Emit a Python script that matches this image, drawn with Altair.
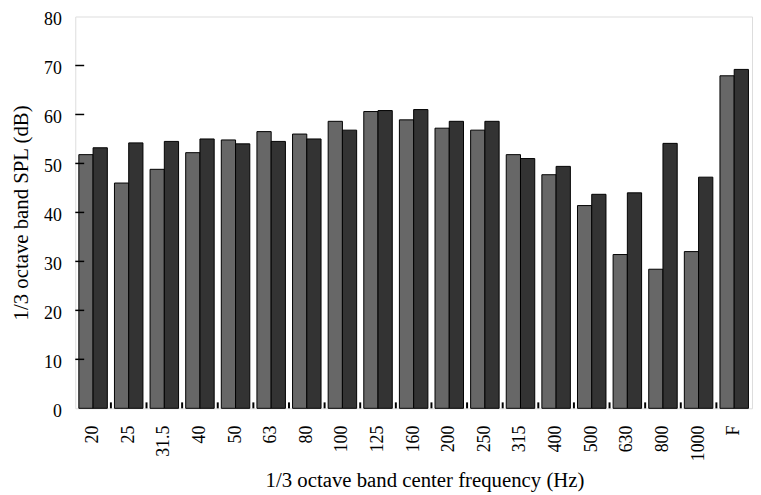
import altair as alt
import pandas as pd

categories = ["20", "25", "31.5", "40", "50", "63", "80", "100", "125", "160",
              "200", "250", "315", "400", "500", "630", "800", "1000", "F"]
series_a = [51.8, 46.0, 48.8, 52.2, 54.8, 56.5, 56.0, 58.6, 60.6, 58.9,
            57.2, 56.8, 51.8, 47.7, 41.4, 31.4, 28.4, 32.0, 67.9]
series_b = [53.2, 54.2, 54.5, 55.0, 54.0, 54.5, 55.0, 56.8, 60.8, 61.0,
            58.6, 58.6, 51.0, 49.4, 43.7, 44.0, 54.1, 47.2, 69.2]
series_names = ["A", "B"]
y_ticks = [10, 20, 30, 40, 50, 60, 70]

rows = []
for c, a, b in zip(categories, series_a, series_b):
    rows.append({"band": c, "series": series_names[0], "spl": a})
    rows.append({"band": c, "series": series_names[1], "spl": b})
df = pd.DataFrame(rows)

W, H = 684, 396
FONT = "Liberation Serif"
PI = 0.2
STEP = W / (len(categories) - PI + 2 * 0.1)

xscale = alt.Scale(domain=categories, paddingInner=PI, paddingOuter=0.1)
yscale = alt.Scale(domain=[0, 80], nice=False)

bars = alt.Chart(df).mark_bar(stroke="black", strokeWidth=1).encode(
    x=alt.X("band:N", scale=xscale, sort=categories,
            axis=alt.Axis(title="1/3 octave band center frequency (Hz)", labelAngle=-90,
                          labelAlign="right", labelBaseline="middle", ticks=False, domain=False,
                          labelPadding=17, labelFontSize=18, titleFontSize=21,
                          titleFontWeight="normal", labelFont=FONT, titleFont=FONT,
                          labelColor="black", titleColor="black", titlePadding=9,
                          titleX=W / 2 + 11)),
    xOffset=alt.XOffset("series:N", scale=alt.Scale(domain=series_names, paddingInner=0)),
    y=alt.Y("spl:Q", scale=yscale,
            axis=alt.Axis(title="1/3 octave band SPL (dB)", values=[0, 10, 20, 30, 40, 50, 60, 70, 80],
                          ticks=False, domain=False, grid=False, labelPadding=14,
                          labelOffset=3, labelFontSize=18, titleFontSize=21,
                          titleFontWeight="normal", labelFont=FONT, titleFont=FONT,
                          labelColor="black", titleColor="black", titlePadding=12)),
    color=alt.Color("series:N", scale=alt.Scale(domain=series_names, range=["#676767", "#333333"]),
                    legend=None),
)

ytick_df = pd.DataFrame({"v": y_ticks})
yticks = alt.Chart(ytick_df).mark_rule(color="black", strokeWidth=1.5).encode(
    y=alt.Y("v:Q", scale=yscale),
    x=alt.value(0), x2=alt.value(9),
)

xtick_df = pd.DataFrame({"band": categories[1:]})
xticks = alt.Chart(xtick_df).mark_rule(color="black", strokeWidth=2,
                                      xOffset=-STEP * PI / 2).encode(
    x=alt.X("band:N", scale=xscale, sort=categories, bandPosition=0),
    y=alt.value(H - 6), y2=alt.value(H),
)

chart = alt.layer(bars, yticks, xticks).properties(
    width=W, height=H,
    autosize=alt.AutoSizeParams(type="none"),
    padding={"left": 68, "top": 6, "right": 1, "bottom": 85},
).configure_view(stroke="black", strokeWidth=1.5).configure(background="white")

chart.save("out.html", embed_options={"renderer": "svg", "actions": False})
